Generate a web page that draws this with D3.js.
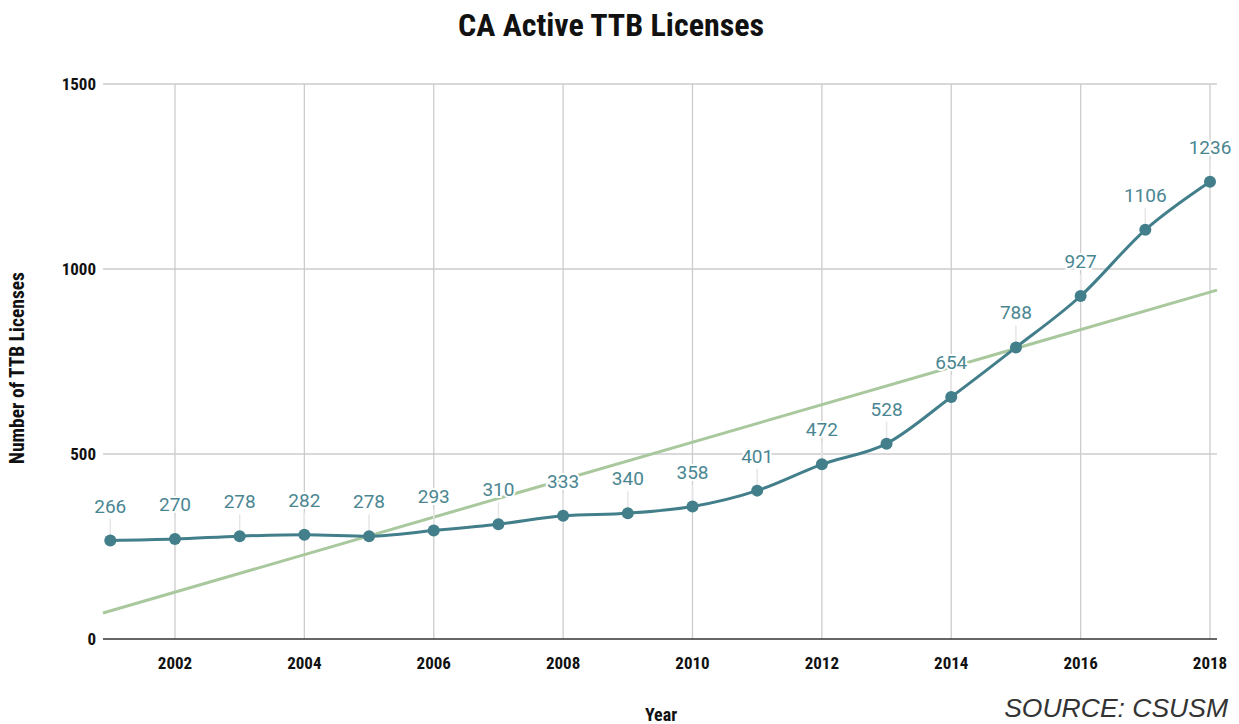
<!DOCTYPE html>
<html>
<head>
<meta charset="utf-8">
<script src="https://cdn.jsdelivr.net/npm/d3@7"></script>
<style>
  body { margin: 0; background: #fff; }
  .cond { font-family: "Liberation Sans Narrow", "Roboto Condensed", "DejaVu Sans Condensed", sans-serif; font-weight: bold; }
</style>
</head>
<body>
<svg id="chart" width="1239" height="724"></svg>
<script>
// data
let years = [2001, 2002, 2003, 2004, 2005, 2006, 2007, 2008, 2009, 2010, 2011, 2012, 2013, 2014, 2015, 2016, 2017, 2018];
let licenses = [266, 270, 278, 282, 278, 293, 310, 333, 340, 358, 401, 472, 528, 654, 788, 927, 1106, 1236];
let xTicks = [2002, 2004, 2006, 2008, 2010, 2012, 2014, 2016, 2018];
let yTicks = [0, 500, 1000, 1500];

let svg = d3.select('#chart');

let plotLeft = 103, plotRight = 1217, plotTop = 84, plotBottom = 639;

let x = d3.scaleLinear().domain([2001, 2018]).range([110.3, 1210]);
let y = d3.scaleLinear().domain([0, 1500]).range([plotBottom, plotTop]);

// least squares trend line
let mx = d3.mean(years), my = d3.mean(licenses);
let sxy = d3.sum(years, (d, i) => (d - mx) * (licenses[i] - my));
let sxx = d3.sum(years, (d) => (d - mx) * (d - mx));
let slope = sxy / sxx;
let trend = (yr) => my + slope * (yr - mx);

// title
svg.append('text')
    .attr('class', 'cond')
    .attr('x', 611).attr('y', 36)
    .attr('text-anchor', 'middle')
    .attr('font-size', 32)
    .attr('fill', '#111')
    .text('CA Active TTB Licenses');

// horizontal grid
svg.append('g').selectAll('line')
    .data(yTicks.filter((d) => d > 0))
    .enter().append('line')
    .attr('x1', plotLeft).attr('x2', plotRight)
    .attr('y1', (d) => y(d)).attr('y2', (d) => y(d))
    .attr('stroke', '#cccccc').attr('stroke-width', 1.3);

// vertical grid
svg.append('g').selectAll('line')
    .data(xTicks)
    .enter().append('line')
    .attr('x1', (d) => x(d)).attr('x2', (d) => x(d))
    .attr('y1', plotTop).attr('y2', plotBottom)
    .attr('stroke', '#cccccc').attr('stroke-width', 1.3);

// baseline
svg.append('line')
    .attr('x1', plotLeft).attr('x2', plotRight)
    .attr('y1', y(0)).attr('y2', y(0))
    .attr('stroke', '#333').attr('stroke-width', 1.5);

// y tick labels
svg.append('g').selectAll('text')
    .data(yTicks)
    .enter().append('text')
    .attr('class', 'cond')
    .attr('x', 96).attr('y', (d) => y(d) + 6)
    .attr('text-anchor', 'end')
    .attr('font-size', 17)
    .attr('fill', '#111')
    .text((d) => d);

// x tick labels
svg.append('g').selectAll('text')
    .data(xTicks)
    .enter().append('text')
    .attr('class', 'cond')
    .attr('x', (d) => x(d)).attr('y', 669)
    .attr('text-anchor', 'middle')
    .attr('font-size', 17)
    .attr('fill', '#111')
    .text((d) => d);

// axis titles
svg.append('text')
    .attr('class', 'cond')
    .attr('x', 661).attr('y', 721)
    .attr('text-anchor', 'middle')
    .attr('font-size', 18)
    .attr('fill', '#111')
    .text('Year');

svg.append('text')
    .attr('class', 'cond')
    .attr('transform', 'translate(24,' + 368 + ') rotate(-90)')
    .attr('text-anchor', 'middle')
    .attr('font-size', 19.5)
    .attr('fill', '#111')
    .text('Number of TTB Licenses');

// source
svg.append('text')
    .attr('x', 1228).attr('y', 717)
    .attr('text-anchor', 'end')
    .attr('font-family', '"Liberation Sans", Arial, sans-serif')
    .attr('font-style', 'italic')
    .attr('font-size', 26.5)
    .attr('fill', '#333')
    .text('SOURCE: CSUSM');

// trend line
let x0 = x.invert(plotLeft), x1 = x.invert(plotRight);
svg.append('line')
    .attr('x1', plotLeft).attr('y1', y(trend(x0)))
    .attr('x2', plotRight).attr('y2', y(trend(x1)))
    .attr('stroke', '#a9c89d').attr('stroke-width', 3);

let pts = years.map((d, i) => ({ year: d, value: licenses[i] }));

// leader lines
svg.append('g').selectAll('line')
    .data(pts)
    .enter().append('line')
    .attr('x1', (d) => x(d.year)).attr('x2', (d) => x(d.year))
    .attr('y1', (d) => y(d.value) - 22).attr('y2', (d) => y(d.value))
    .attr('stroke', '#e6e6e6').attr('stroke-width', 1.5);

// main line
let line = d3.line()
    .x((d) => x(d.year))
    .y((d) => y(d.value))
    .curve(d3.curveMonotoneX);

svg.append('path')
    .datum(pts)
    .attr('d', line)
    .attr('fill', 'none')
    .attr('stroke', '#427f8b')
    .attr('stroke-width', 3);

svg.append('g').selectAll('circle')
    .data(pts)
    .enter().append('circle')
    .attr('cx', (d) => x(d.year))
    .attr('cy', (d) => y(d.value))
    .attr('r', 6)
    .attr('fill', '#427f8b');

// value labels
svg.append('g').selectAll('text')
    .data(pts)
    .enter().append('text')
    .attr('x', (d) => x(d.year))
    .attr('y', (d) => y(d.value) - 28)
    .attr('text-anchor', 'middle')
    .attr('font-family', 'Roboto, sans-serif')
    .attr('font-size', 19)
    .attr('fill', '#4a8692')
    .attr('stroke', '#fff')
    .attr('stroke-width', 4)
    .attr('paint-order', 'stroke')
    .text((d) => d.value);
</script>
</body>
</html>
